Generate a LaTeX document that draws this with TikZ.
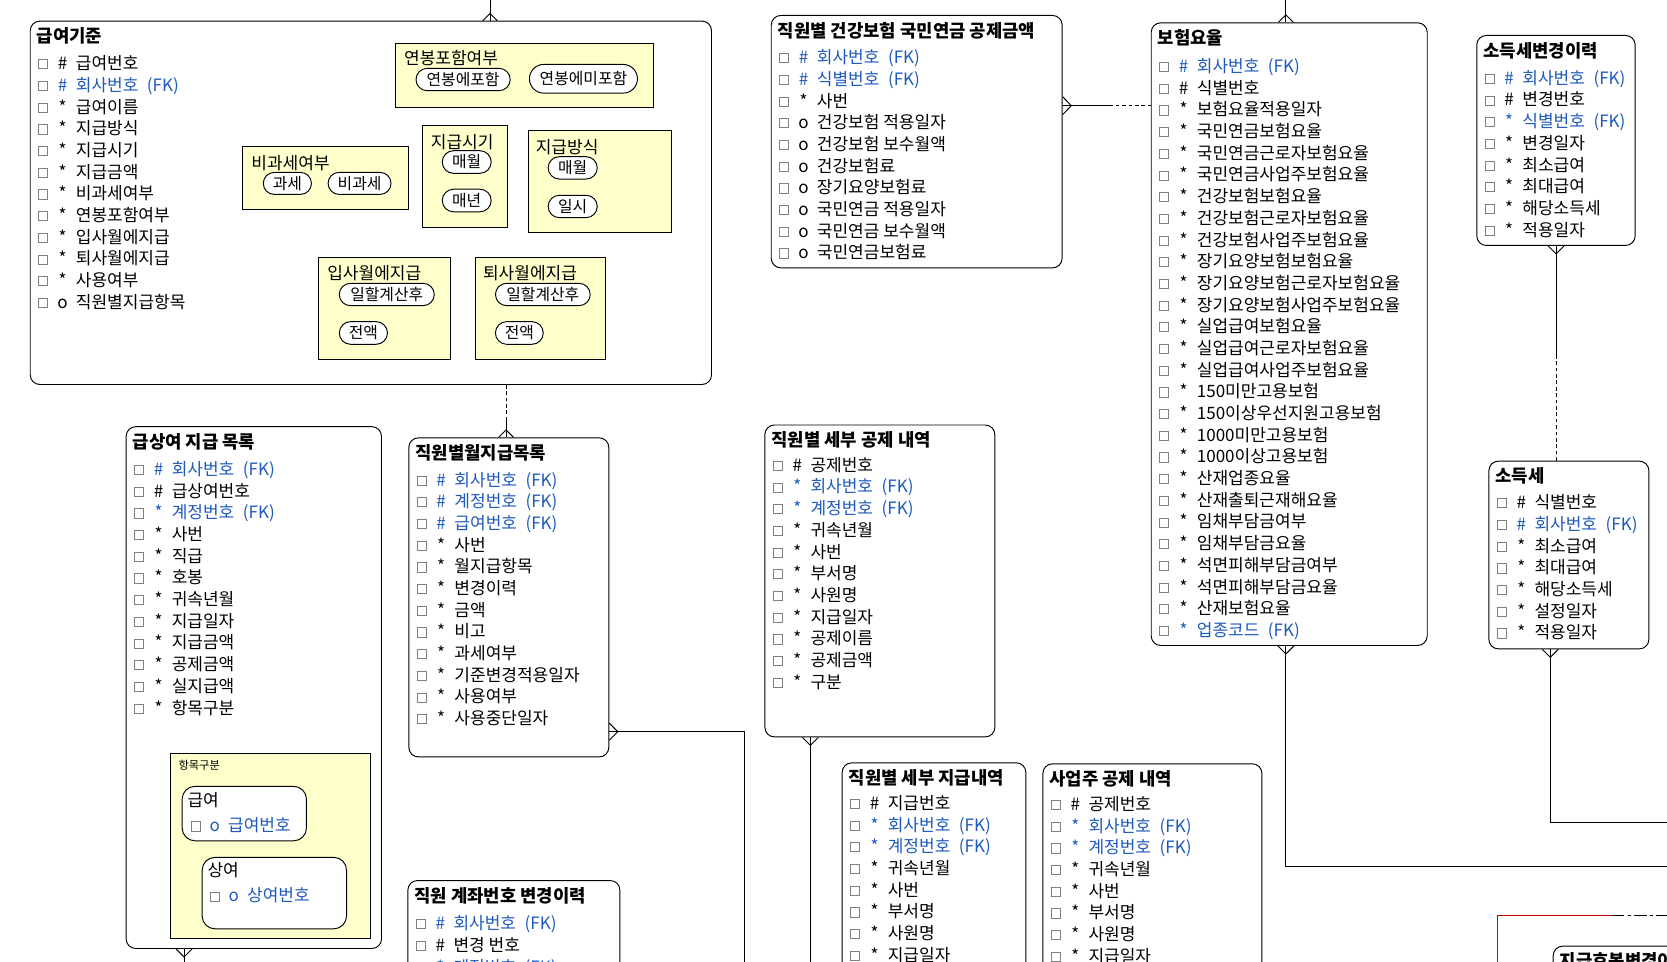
\documentclass[tikz,border=0pt]{standalone}
\usepackage{fontspec}
\setmainfont{Noto Sans CJK KR}
\usetikzlibrary{calc,shapes.misc}

\definecolor{txtk}{RGB}{0,0,0}
\definecolor{txtb}{RGB}{30,90,190}
\definecolor{chkgray}{RGB}{128,128,128}
\definecolor{enumfill}{RGB}{255,255,204}
\definecolor{selred}{RGB}{200,0,0}

% attribute row parts
\newcommand{\chk}{\raisebox{1.2pt}{\color{chkgray}\setlength{\fboxsep}{0pt}\setlength{\fboxrule}{0.8pt}\fbox{\rule{0pt}{7.8pt}\hspace*{7.8pt}}}}
\newcommand{\fk}{\hspace{8pt}(FK)}
\newcommand{\syh}{\#}
\newcommand{\sys}{*}
\newcommand{\syo}{o}

\tikzset{
  entbox/.style={draw, line width=0.9pt, rounded corners=9pt, fill=white, anchor=north west, inner sep=0pt},
  enttitle/.style={anchor=base west, inner sep=0pt, font=\fontsize{16.7}{19}\selectfont\bfseries},
  item/.style={anchor=base west, inner sep=0pt, font=\fontsize{16}{18}\selectfont},
  enumbox/.style={draw, line width=0.9pt, fill=enumfill, anchor=north west, inner sep=0pt},
  enumtitle/.style={anchor=base west, inner sep=0pt, font=\fontsize{16}{18}\selectfont},
  pill/.style={rounded rectangle, draw, line width=0.9pt, fill=white, inner sep=0pt, font=\fontsize{14.9}{17}\selectfont},
  subbox/.style={draw, line width=0.9pt, fill=white, rounded corners=12pt, anchor=north west, inner sep=0pt},
  conn/.style={line width=0.9pt, black},
  dashconn/.style={conn, dash pattern=on 3.5pt off 2.5pt},
}

% entity: name, x, y, width, height, title, first row offset, rows (symbol/text/colour)
\newcommand{\entity}[8]{%
  \node[entbox, minimum width=#4, minimum height=#5] (#1) at (#2,#3) {};
  \node[enttitle] (#1-title) at ($(#1.north west)+(6.5,20.8)$) {#6};
  \foreach \ys/\yt/\yc [count=\yi] in {#8}{%
    \node[item, text=txt\yc] (#1-row\yi) at ($(#1.north west)+(7.8,{#7+6+20.4*(\yi-1)})$)
      {\chk\hspace{4.5pt}\makebox[18pt]{\csname sy\ys\endcsname}\hspace{3.5pt}\yt};
  }%
}

% many-end of a relationship: edge point, half spread, tip offset
\newcommand{\crowfoot}[3]{\draw[conn] ($(#1)+(#2)$) -- ($(#1)+(#3)$) -- ($(#1)-(#2)$);}

\begin{document}
\begin{tikzpicture}[x=1pt,y=-1pt]
\useasboundingbox (0,0) rectangle (1568,904);
\fill[white] (0,0) rectangle (1568,904);
\clip (0,0) rectangle (1568,904);

% ---------------- entities ----------------
\entity{gijun}{28}{19.4}{640.8}{341.8}{급여기준}{40.2}{%
  h/급여번호/k, h/회사번호\fk/b, s/급여이름/k, s/지급방식/k, s/지급시기/k, s/지급금액/k,
  s/비과세여부/k, s/연봉포함여부/k, s/입사월에지급/k, s/퇴사월에지급/k, s/사용여부/k, o/직원별지급항목/k}

\entity{health}{725}{14.1}{273.6}{237.4}{직원별 건강보험 국민연금 공제금액}{39.8}{%
  h/회사번호\fk/b, h/식별번호\fk/b, s/사번/k, o/건강보험 적용일자/k, o/건강보험 보수월액/k,
  o/건강보험료/k, o/장기요양보험료/k, o/국민연금 적용일자/k, o/국민연금 보수월액/k, o/국민연금보험료/k}

\entity{rate}{1082.4}{21}{259.6}{585.7}{보험요율}{41.2}{%
  h/회사번호\fk/b, h/식별번호/k, s/보험요율적용일자/k, s/국민연금보험요율/k, s/국민연금근로자보험요율/k,
  s/국민연금사업주보험요율/k, s/건강보험보험요율/k, s/건강보험근로자보험요율/k, s/건강보험사업주보험요율/k,
  s/장기요양보험보험요율/k, s/장기요양보험근로자보험요율/k, s/장기요양보험사업주보험요율/k,
  s/실업급여보험요율/k, s/실업급여근로자보험요율/k, s/실업급여사업주보험요율/k, s/150미만고용보험/k,
  s/150이상우선지원고용보험/k, s/1000미만고용보험/k, s/1000이상고용보험/k, s/산재업종요율/k,
  s/산재출퇴근재해요율/k, s/임채부담금여부/k, s/임채부담금요율/k, s/석면피해부담금여부/k,
  s/석면피해부담금요율/k, s/산재보험요율/k, s/업종코드\fk/b}

\entity{taxhist}{1388.6}{32.9}{149}{197.5}{소득세변경이력}{40.4}{%
  h/회사번호\fk/b, h/변경번호/k, s/식별번호\fk/b, s/변경일자/k, s/최소급여/k, s/최대급여/k,
  s/해당소득세/k, s/적용일자/k}

\entity{tax}{1400}{433.3}{150.5}{176.6}{소득세}{39.2}{%
  h/식별번호/k, h/회사번호\fk/b, s/최소급여/k, s/최대급여/k, s/해당소득세/k, s/설정일자/k, s/적용일자/k}

\entity{bonus}{118.2}{400.9}{240.2}{490.8}{급상여 지급 목록}{40.3}{%
  h/회사번호\fk/b, h/급상여번호/k, s/계정번호\fk/b, s/사번/k, s/직급/k, s/호봉/k, s/귀속년월/k,
  s/지급일자/k, s/지급금액/k, s/공제금액/k, s/실지급액/k, s/항목구분/k}

\entity{monthly}{384.1}{411.4}{188.1}{300.1}{직원별월지급목록}{39.8}{%
  h/회사번호\fk/b, h/계정번호\fk/b, h/급여번호\fk/b, s/사번/k, s/월지급항목/k, s/변경이력/k,
  s/금액/k, s/비고/k, s/과세여부/k, s/기준변경적용일자/k, s/사용여부/k, s/사용중단일자/k}

\entity{deduct}{719}{399.3}{216.3}{293.4}{직원별 세부 공제 내역}{38}{%
  h/공제번호/k, s/회사번호\fk/b, s/계정번호\fk/b, s/귀속년월/k, s/사번/k, s/부서명/k, s/사원명/k,
  s/지급일자/k, s/공제이름/k, s/공제금액/k, s/구분/k}

\entity{paydet}{791.7}{717.1}{172.8}{300}{직원별 세부 지급내역}{38.2}{%
  h/지급번호/k, s/회사번호\fk/b, s/계정번호\fk/b, s/귀속년월/k, s/사번/k, s/부서명/k, s/사원명/k, s/지급일자/k}

\entity{empded}{980.5}{718}{206}{300}{사업주 공제 내역}{38.3}{%
  h/공제번호/k, s/회사번호\fk/b, s/계정번호\fk/b, s/귀속년월/k, s/사번/k, s/부서명/k, s/사원명/k, s/지급일자/k}

\entity{acct}{383.2}{827.8}{199.4}{200}{직원 계좌번호 변경이력}{40.7}{%
  h/회사번호\fk/b, h/변경 번호/k, s/계정번호\fk/b}

\node[entbox, minimum width=300, minimum height=200] (grade) at (1460.5,889.5) {};
\node[enttitle] (grade-title) at ($(grade.north west)+(6.5,20.8)$) {지급호봉변경이력};

% ---------------- domains of 급여기준 ----------------
\node[enumbox, minimum width=242, minimum height=59.5] (d-annual) at (371.9,40.8) {};
\node[enumtitle] (d-annual-t) at (379.9,61) {연봉포함여부};
\node[pill, minimum width=88.6, minimum height=21] (d-annual-p1) at (435.6,74.8) {연봉에포함};
\node[pill, minimum width=101.6, minimum height=27] (d-annual-p2) at (548.8,74.1) {연봉에미포함};

\node[enumbox, minimum width=155.4, minimum height=59.6] (d-taxfree) at (227.9,137.3) {};
\node[enumtitle] (d-taxfree-t) at (236.3,159.7) {비과세여부};
\node[pill, minimum width=45.3, minimum height=20.7] (d-taxfree-p1) at (270.3,172.5) {과세};
\node[pill, minimum width=59.2, minimum height=20.7] (d-taxfree-p2) at (338.2,172.5) {비과세};

\node[enumbox, minimum width=79.4, minimum height=95.9] (d-when) at (397.1,117.9) {};
\node[enumtitle] (d-when-t) at (405.1,139.4) {지급시기};
\node[pill, minimum width=46, minimum height=21.3] (d-when-p1) at (439,152.4) {매월};
\node[pill, minimum width=46, minimum height=21.3] (d-when-p2) at (439,188.6) {매년};

\node[enumbox, minimum width=134.4, minimum height=95.9] (d-how) at (497.1,122.6) {};
\node[enumtitle] (d-how-t) at (503.8,144.1) {지급방식};
\node[pill, minimum width=46.2, minimum height=21] (d-how-p1) at (538.7,157.9) {매월};
\node[pill, minimum width=46.2, minimum height=21] (d-how-p2) at (538.7,194.2) {일시};

\node[enumbox, minimum width=123.5, minimum height=96] (d-join) at (299.3,242) {};
\node[enumtitle] (d-join-t) at (307.7,263.2) {입사월에지급};
\node[pill, minimum width=89.4, minimum height=21] (d-join-p1) at (363.8,277) {일할계산후};
\node[pill, minimum width=45.3, minimum height=21.3] (d-join-p2) at (341.8,313.2) {전액};

\node[enumbox, minimum width=122.2, minimum height=96] (d-leave) at (447.2,242) {};
\node[enumtitle] (d-leave-t) at (454.2,263.2) {퇴사월에지급};
\node[pill, minimum width=89.1, minimum height=21] (d-leave-p1) at (510.6,277) {일할계산후};
\node[pill, minimum width=45, minimum height=21.3] (d-leave-p2) at (488.5,313.2) {전액};

% ---------------- 항목구분 subtypes of 급상여 지급 목록 ----------------
\node[enumbox, minimum width=188.2, minimum height=174] (d-kind) at (160.2,708.6) {};
\node[anchor=base west, inner sep=0pt, font=\fontsize{10.6}{12}\selectfont] (d-kind-t) at (167.7,723.6) {항목구분};
\node[subbox, minimum width=116.9, minimum height=51.2] (k-pay) at (170.9,739.2) {};
\node[enumtitle] (k-pay-t) at (176.2,758.3) {급여};
\node[item, text=txtb] (k-pay-row) at (179,782.5) {\chk\hspace{4.5pt}\makebox[18pt]{o}\hspace{3.5pt}급여번호};
\node[subbox, minimum width=135.8, minimum height=67.2] (k-bonus) at (189.7,806) {};
\node[enumtitle] (k-bonus-t) at (195,824.7) {상여};
\node[item, text=txtb] (k-bonus-row) at (196.9,848.4) {\chk\hspace{4.5pt}\makebox[18pt]{o}\hspace{3.5pt}상여번호};

% ---------------- relationships ----------------
% into 급여기준 from above
\coordinate (c1free) at (460.9,0);
\coordinate (c1a) at (c1free |- gijun.north);
\draw[conn] (c1free) -- (c1a);
\crowfoot{c1a}{6.8,0}{0,-6.6}

% 급여기준 -> 직원별월지급목록
\coordinate (c2b) at ($(monthly.north west)+(91.9,0)$);
\coordinate (c2a) at (c2b |- gijun.south);
\coordinate (c2m) at ($(c2a)+(0,32)$);
\draw[dashconn] (c2a) -- (c2m);
\draw[conn] (c2m) -- (c2b);
\crowfoot{c2b}{7,0}{0,-7}

% 직원별 건강보험 국민연금 공제금액 -> 보험요율
\coordinate (c3a) at ($(health.north east)+(0,85.3)$);
\coordinate (c3b) at (c3a -| rate.west);
\coordinate (c3m) at ($(c3a)+(44,0)$);
\draw[conn] (c3a) -- (c3m);
\draw[dashconn] (c3m) -- (c3b);
\crowfoot{c3a}{0,8.5}{8.2,0}

% into 보험요율 from above
\coordinate (c4free) at (1209.5,0);
\coordinate (c4a) at (c4free |- rate.north);
\draw[conn] (c4free) -- (c4a);
\crowfoot{c4a}{7,0}{0,-7}

% out of 보험요율 below
\coordinate (c5a) at (c4free |- rate.south);
\coordinate (c5free) at (1570,814.6);
\draw[conn] (c5a) -- (c5a |- c5free) -- (c5free);
\crowfoot{c5a}{7.5,0}{0,7.5}

% 소득세변경이력 -> 소득세
\coordinate (c6a) at ($(taxhist.south west)+(75.1,0)$);
\coordinate (c6b) at (c6a |- tax.north);
\coordinate (c6m) at ($(c6a)+(0,102.6)$);
\draw[conn] (c6a) -- (c6m);
\draw[dashconn] (c6m) -- (c6b);
\crowfoot{c6a}{7.5,0}{0,7.5}

% out of 소득세 below
\coordinate (c7a) at ($(tax.south west)+(58.2,0)$);
\coordinate (c7free) at (1570,773.4);
\draw[conn] (c7a) -- (c7a |- c7free) -- (c7free);
\crowfoot{c7a}{7.5,0}{0,7.5}

% out of 급상여 지급 목록 below
\coordinate (c8a) at ($(bonus.south west)+(54.9,0)$);
\coordinate (c8free) at ($(c8a)+(0,30)$);
\draw[conn] (c8a) -- (c8free);
\crowfoot{c8a}{7.5,0}{0,7.5}

% out of 직원별월지급목록 to the right
\coordinate (c9a) at ($(monthly.north east)+(0,276.8)$);
\coordinate (c9free) at (700.1,910);
\draw[conn] (c9a) -- (c9a -| c9free) -- (c9free);
\crowfoot{c9a}{0,8}{8,0}

% out of 직원별 세부 공제 내역 below
\coordinate (c10a) at ($(deduct.south west)+(43.2,0)$);
\coordinate (c10free) at ($(c10a)+(0,230)$);
\draw[conn] (c10a) -- (c10free);
\crowfoot{c10a}{7.5,0}{0,7.5}

% selected relationship near 지급호봉변경이력
\coordinate (c11free) at (1408.3,910);
\coordinate (c11c) at (1408.3,860.7);
\coordinate (c11m) at (1516,860.7);
\coordinate (c11end) at (1570,860.7);
\draw[conn, selred] (c11free) -- (c11c) -- (c11m);
\draw[conn, dash pattern=on 12pt off 3pt on 3pt off 3pt] (c11m) -- (c11end);
\end{tikzpicture}
\end{document}
